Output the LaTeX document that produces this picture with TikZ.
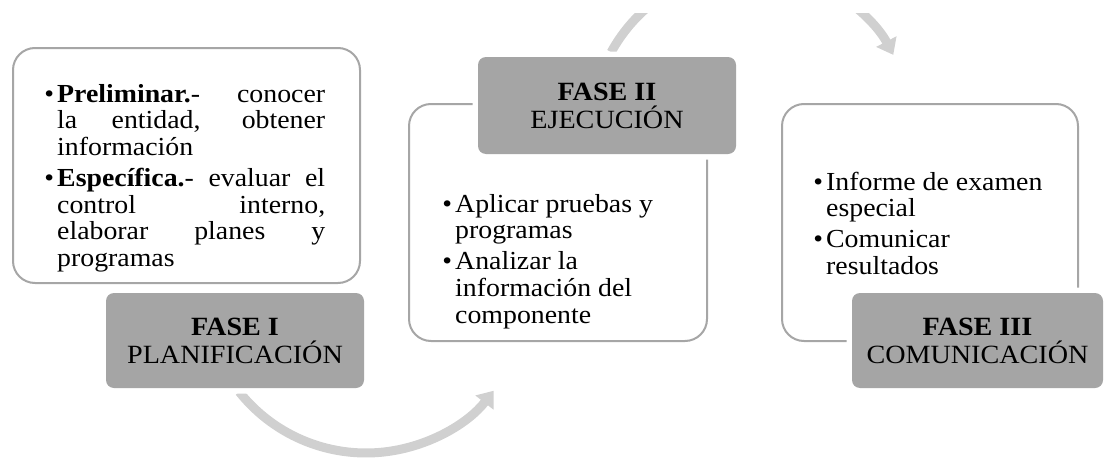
\documentclass[tikz,border=0pt]{standalone}
\usepackage{fontspec}
\setmainfont{Liberation Serif}
\newfontfamily\bodyf{Liberation Serif}[FakeStretch=1.07]
\usetikzlibrary{arrows.meta}
\definecolor{phasegray}{HTML}{A5A5A5}
\definecolor{panelline}{HTML}{A6A6A6}
\definecolor{arcgray}{HTML}{D0D0D0}
\newcommand{\bul}{\leavevmode\llap{•\hspace{3pt}}}
\begin{document}
\begin{tikzpicture}[x=1pt,y=-1pt,
  panel/.style={draw=panelline, line width=2pt, fill=white, rounded corners=22pt, inner sep=0pt},
  phase/.style={fill=phasegray, rounded corners=8pt, preaction={draw=white, line width=11pt},
    align=center, inner sep=0pt, font=\bodyf\fontsize{26.3}{28}\selectfont, text=black},
  body/.style={anchor=base west, inner sep=0pt, font=\bodyf\fontsize{26}{26.8}\selectfont},
  cyc/.style={draw=arcgray, line width=9pt, -{Triangle[width=22pt,length=15pt]}}]
\useasboundingbox (0,0) rectangle (1104,463);
% cycle arrows
\begin{scope}
  \clip (0,13) rectangle (1104,463);
  \coordinate (c1) at (366,291);
  \coordinate (c2) at (751.5,129);
  \draw[cyc] (c1) ++(218.5:162pt) coordinate (s1) arc[start angle=218.5, end angle=322, radius=162pt];
  \draw[cyc] (c2) ++(151.3:160pt) coordinate (s2) arc[start angle=151.3, end angle=27.6, radius=160pt];
\end{scope}
% white panels
\node[panel, minimum width=347pt, minimum height=235pt] (b1) at (186.5,165.5) {};
\node[panel, minimum width=298pt, minimum height=237pt] (b2) at (558,222.5) {};
\node[panel, minimum width=296pt, minimum height=237pt] (b3) at (930,222.5) {};
% phase boxes
\node[phase, minimum width=258pt, minimum height=95pt] (f1) at (235,340.5) {\textbf{FASE I}\\PLANIFICACIÓN};
\node[phase, minimum width=258pt, minimum height=97pt] (f2) at (607,105.5) {\textbf{FASE II}\\EJECUCIÓN};
\node[phase, minimum width=251pt, minimum height=95pt] (f3) at (977.5,340.5) {\textbf{FASE III}\\COMUNICACIÓN};
% texts
\node[body] (t1) at (57,102) {\parbox[t]{268pt}{%
\makebox[268pt][s]{\bul\textbf{Preliminar.}- conocer}\\
\makebox[268pt][s]{la entidad, obtener}\\
información\\[4pt]
\makebox[268pt][s]{\bul\textbf{Específica.}- evaluar el}\\
\makebox[268pt][s]{control interno,}\\
\makebox[268pt][s]{elaborar planes y}\\
programas}};
\node[body] (t2) at (455,212) {\parbox[t]{240pt}{%
\bul Aplicar pruebas y\\
programas\\[4pt]
\bul Analizar la\\
información del\\
componente}};
\node[body] (t3) at (826,190) {\parbox[t]{240pt}{%
\bul Informe de examen\\
especial\\[4pt]
\bul Comunicar\\
resultados}};
\end{tikzpicture}
\end{document}
